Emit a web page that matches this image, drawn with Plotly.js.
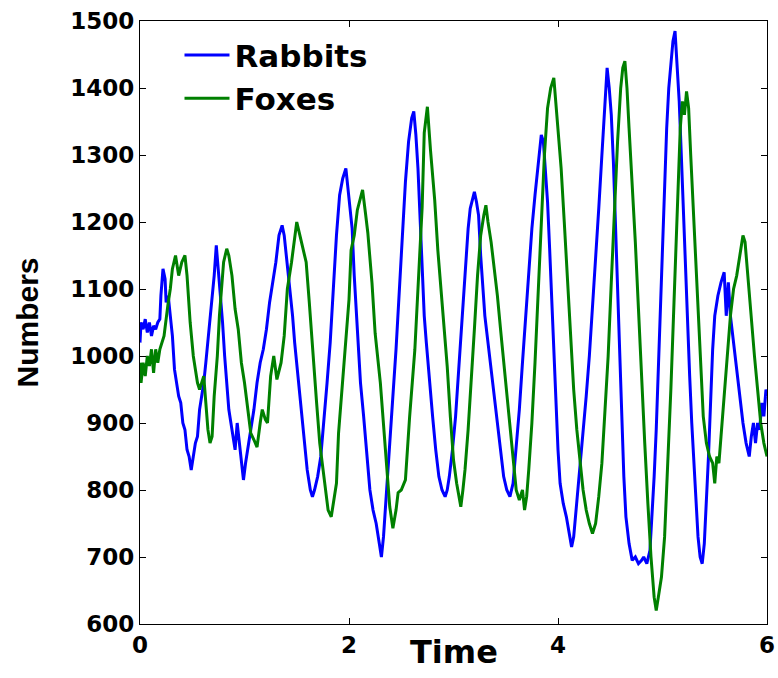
<!DOCTYPE html>
<html>
<head>
<meta charset="utf-8">
<script src="https://cdn.plot.ly/plotly-3.0.1.min.js"></script>
<style>html,body{margin:0;padding:0;background:#fff;}#chart{width:778px;height:678px;}</style>
</head>
<body>
<div id="chart"></div>
<script>
const rabbitT = [0.00,0.01,0.03,0.05,0.07,0.09,0.11,0.13,0.15,0.17,0.19,0.20,0.22,0.24,0.25,0.27,0.29,0.31,0.33,0.35,0.37,0.39,0.41,0.43,0.45,0.47,0.49,0.51,0.53,0.55,0.57,0.59,0.61,0.63,0.65,0.67,0.69,0.71,0.73,0.75,0.77,0.79,0.81,0.83,0.85,0.87,0.89,0.91,0.93,0.95,0.97,0.99,1.01,1.03,1.06,1.09,1.12,1.15,1.18,1.21,1.24,1.27,1.30,1.33,1.36,1.38,1.40,1.42,1.44,1.46,1.48,1.51,1.54,1.57,1.60,1.63,1.65,1.67,1.70,1.73,1.76,1.79,1.82,1.85,1.88,1.91,1.94,1.97,1.99,2.01,2.03,2.05,2.07,2.09,2.11,2.14,2.17,2.20,2.23,2.26,2.29,2.31,2.33,2.35,2.37,2.39,2.42,2.45,2.48,2.51,2.54,2.57,2.60,2.62,2.64,2.66,2.68,2.70,2.72,2.74,2.77,2.80,2.83,2.86,2.89,2.92,2.94,2.96,2.99,3.02,3.05,3.08,3.11,3.14,3.16,3.18,3.20,3.22,3.24,3.26,3.28,3.30,3.33,3.36,3.39,3.42,3.45,3.48,3.51,3.54,3.57,3.60,3.63,3.66,3.69,3.72,3.75,3.78,3.81,3.84,3.86,3.88,3.90,3.92,3.94,3.96,3.98,4.00,4.02,4.05,4.08,4.11,4.13,4.15,4.18,4.21,4.24,4.27,4.30,4.33,4.36,4.39,4.42,4.45,4.47,4.49,4.51,4.53,4.55,4.57,4.59,4.61,4.63,4.65,4.68,4.71,4.74,4.77,4.80,4.82,4.85,4.88,4.90,4.92,4.94,4.96,4.98,5.00,5.02,5.04,5.06,5.08,5.10,5.12,5.14,5.16,5.18,5.20,5.22,5.24,5.26,5.28,5.30,5.32,5.34,5.36,5.38,5.40,5.42,5.44,5.46,5.48,5.50,5.53,5.56,5.59,5.61,5.63,5.65,5.68,5.71,5.74,5.77,5.80,5.83,5.85,5.87,5.89,5.91,5.93,5.95,5.97,5.99,6.00];
const rabbits = [1020,1050,1040,1055,1035,1050,1030,1045,1040,1050,1055,1090,1130,1115,1080,1090,1060,1030,980,960,940,930,900,890,860,850,830,850,870,880,920,940,960,990,1020,1060,1090,1120,1165,1130,1090,1050,1000,960,920,900,880,860,900,870,840,815,840,860,890,920,960,990,1010,1040,1080,1110,1140,1180,1195,1180,1150,1130,1090,1060,1020,970,920,880,830,800,790,800,820,850,900,960,1020,1100,1180,1240,1265,1280,1250,1230,1190,1120,1060,1010,960,910,850,800,770,750,720,700,730,780,830,880,940,1010,1090,1180,1260,1320,1355,1365,1330,1280,1200,1120,1060,1020,960,910,860,820,800,790,800,820,860,910,980,1050,1130,1190,1220,1235,1245,1230,1210,1150,1100,1060,1020,980,940,900,860,820,800,790,810,860,920,990,1060,1130,1190,1240,1290,1330,1320,1280,1230,1160,1080,1000,920,860,810,780,760,730,715,730,780,830,880,940,1000,1070,1140,1220,1300,1370,1430,1400,1360,1290,1200,1100,990,900,820,760,720,695,700,690,695,700,690,710,760,820,890,980,1080,1180,1260,1340,1400,1440,1470,1485,1440,1380,1300,1210,1120,1040,970,900,840,770,730,700,690,720,780,850,930,1010,1060,1090,1110,1125,1060,1110,1060,1020,980,940,900,870,850,880,900,870,900,890,930,910,950,940];
const foxT = [0.00,0.01,0.03,0.05,0.07,0.09,0.11,0.13,0.15,0.17,0.19,0.23,0.27,0.29,0.31,0.34,0.37,0.40,0.43,0.45,0.48,0.51,0.53,0.55,0.57,0.59,0.61,0.63,0.65,0.67,0.69,0.71,0.74,0.76,0.78,0.80,0.83,0.85,0.88,0.91,0.94,0.97,1.00,1.03,1.06,1.09,1.12,1.15,1.17,1.20,1.22,1.25,1.28,1.31,1.35,1.38,1.41,1.45,1.48,1.50,1.53,1.56,1.59,1.62,1.65,1.67,1.69,1.72,1.76,1.80,1.83,1.86,1.88,1.90,1.95,2.00,2.02,2.05,2.08,2.10,2.13,2.16,2.18,2.22,2.25,2.30,2.33,2.36,2.39,2.42,2.45,2.47,2.50,2.54,2.58,2.63,2.66,2.70,2.72,2.75,2.78,2.82,2.85,2.90,2.94,2.97,3.00,3.03,3.07,3.09,3.11,3.14,3.17,3.20,3.23,3.26,3.29,3.31,3.33,3.36,3.39,3.42,3.45,3.48,3.51,3.54,3.57,3.60,3.63,3.66,3.68,3.70,3.72,3.75,3.78,3.81,3.84,3.87,3.90,3.93,3.96,3.98,4.00,4.03,4.06,4.09,4.12,4.15,4.18,4.21,4.24,4.27,4.30,4.33,4.36,4.39,4.42,4.45,4.48,4.51,4.54,4.57,4.60,4.62,4.64,4.66,4.68,4.71,4.74,4.77,4.80,4.83,4.86,4.89,4.92,4.94,4.96,4.99,5.02,5.05,5.08,5.11,5.14,5.17,5.19,5.21,5.23,5.25,5.27,5.30,5.33,5.36,5.39,5.42,5.45,5.48,5.50,5.52,5.54,5.56,5.59,5.62,5.65,5.68,5.71,5.74,5.77,5.79,5.82,5.85,5.88,5.91,5.94,5.97,6.00];
const foxes = [990,960,990,970,1000,985,1010,975,1010,990,1010,1030,1080,1100,1130,1150,1120,1140,1150,1120,1050,1000,980,960,950,960,970,930,890,870,880,940,1000,1060,1100,1140,1160,1150,1120,1070,1040,990,960,920,885,875,864,900,920,905,900,970,1000,965,990,1030,1100,1140,1180,1200,1180,1160,1140,1080,1010,960,930,870,819,770,760,790,810,885,984,1084,1158,1180,1218,1230,1248,1210,1184,1109,1034,960,900,834,775,743,770,796,800,815,909,1009,1109,1222,1333,1372,1307,1233,1158,1058,984,909,845,810,775,800,830,890,960,1040,1120,1180,1210,1225,1200,1170,1130,1090,1040,990,940,890,840,800,785,800,770,790,830,900,990,1090,1200,1300,1370,1400,1415,1380,1340,1280,1200,1110,1020,950,890,840,800,770,750,735,750,790,840,920,1000,1110,1220,1320,1400,1430,1440,1400,1340,1260,1170,1070,960,870,780,700,640,620,640,670,730,830,950,1080,1210,1340,1380,1360,1395,1370,1300,1200,1090,990,910,870,850,840,810,850,840,880,940,1000,1060,1100,1120,1150,1180,1170,1110,1060,1000,950,900,870,850];
const xTicks = [0, 2, 4, 6];
const yTicks = [600, 700, 800, 900, 1000, 1100, 1200, 1300, 1400, 1500];

const tickFont = {family: 'DejaVu Sans', size: 23, weight: 'bold', color: '#000'};
const data = [
  {x: rabbitT, y: rabbits, name: 'Rabbits', type: 'scatter', mode: 'lines',
   line: {color: '#0000ff', width: 3}},
  {x: foxT, y: foxes, name: 'Foxes', type: 'scatter', mode: 'lines',
   line: {color: '#008000', width: 3}}
];
const layout = {
  width: 778, height: 678,
  margin: {l: 140, r: 11, t: 21, b: 54},
  paper_bgcolor: '#fff', plot_bgcolor: '#fff',
  showlegend: true,
  legend: {x: 0.063, y: 0.988, xanchor: 'left', yanchor: 'top', bgcolor: 'rgba(0,0,0,0)',
    itemwidth: 45,
    font: {family: 'DejaVu Sans', size: 31, weight: 'bold', color: '#000'}, tracegroupgap: 0},
  xaxis: {range: [0, 6], tickvals: xTicks, ticktext: xTicks.map(String), ticks: 'inside', ticklen: 6,
    tickcolor: '#000', showline: true, linecolor: '#000', linewidth: 1.2, mirror: 'ticks',
    showgrid: false, zeroline: false, tickfont: tickFont, automargin: false},
  yaxis: {range: [600, 1500], tickvals: yTicks, ticktext: yTicks.map(String), ticks: 'inside', ticklen: 6,
    tickcolor: '#000', showline: true, linecolor: '#000', linewidth: 1.2, mirror: 'ticks',
    showgrid: false, zeroline: false, tickfont: tickFont, automargin: false,
    title: {text: 'Numbers', font: {family: 'Liberation Sans', size: 30, weight: 'bold', color: '#000'}, standoff: 22}},
  annotations: [{text: 'Time', xref: 'paper', yref: 'paper', x: 0.5, y: 0, xanchor: 'center', yanchor: 'top',
    yshift: -7, showarrow: false,
    font: {family: 'DejaVu Sans', size: 32, weight: 'bold', color: '#000'}}]
};
Plotly.newPlot('chart', data, layout, {displayModeBar: false, staticPlot: true});
</script>
</body>
</html>
